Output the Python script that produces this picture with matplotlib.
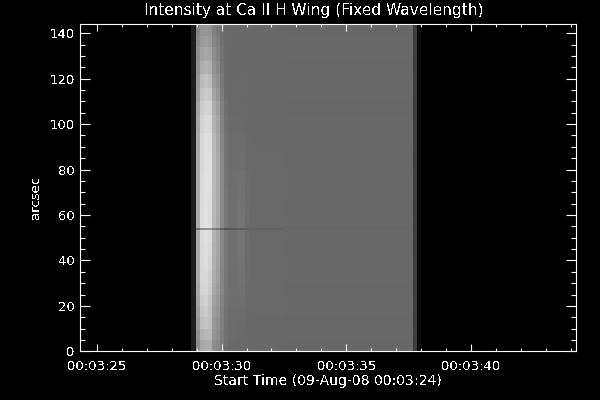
#!/usr/bin/env python3
import numpy as np
import matplotlib
matplotlib.use("Agg")
import matplotlib.pyplot as plt

# seconds after the start time 00:03:24
x_ticks = [1, 6, 11, 16]
x_labels = ["00:03:25", "00:03:30", "00:03:35", "00:03:40"]
x_minor = [2, 3, 4, 5, 7, 8, 9, 10, 12, 13, 14, 15, 17, 18, 19, 20]
y_ticks = [0, 20, 40, 60, 80, 100, 120, 140]

# slit position bands (arcsec)
band_edges = [0, 5, 10, 15, 20, 25, 30, 36, 42, 48, 53.6, 54.4, 60, 66, 72, 80, 88, 96,
              104, 110, 116, 122, 128, 134, 139, 144.3]

# scan columns: grey level of first 14 columns in each band, bottom to top
head = [
    [30, 142, 168, 172, 172, 142, 136, 122, 110, 106, 106, 105, 105, 105],
    [30, 146, 178, 182, 182, 148, 140, 124, 111, 107, 107, 106, 106, 105],
    [30, 152, 190, 196, 190, 152, 144, 126, 112, 108, 108, 107, 107, 105],
    [30, 158, 198, 204, 192, 156, 148, 128, 113, 108, 108, 108, 108, 105],
    [30, 165, 206, 210, 196, 162, 152, 130, 115, 109, 109, 110, 110, 106],
    [30, 168, 212, 214, 202, 168, 157, 133, 116, 110, 110, 112, 112, 106],
    [30, 170, 214, 216, 206, 172, 160, 134, 117, 110, 110, 113, 113, 107],
    [30, 170, 216, 220, 212, 176, 162, 135, 118, 110, 111, 114, 114, 107],
    [30, 171, 218, 223, 216, 178, 164, 135, 118, 110, 111, 115, 115, 107],
    [30, 171, 219, 225, 219, 180, 165, 135, 118, 110, 111, 115, 115, 108],
    [30, 110, 140, 145, 150, 125, 115, 92, 84, 88, 90, 92, 92, 92],
    [30, 171, 220, 226, 221, 184, 168, 137, 118, 110, 111, 115, 115, 108],
    [30, 171, 220, 226, 221, 185, 170, 138, 118, 110, 111, 115, 114, 108],
    [30, 170, 219, 225, 222, 185, 170, 138, 117, 110, 110, 113, 113, 107],
    [30, 170, 218, 225, 223, 185, 170, 138, 116, 109, 110, 112, 112, 107],
    [30, 170, 216, 224, 224, 185, 170, 137, 115, 108, 109, 110, 110, 106],
    [30, 169, 214, 222, 222, 183, 168, 135, 114, 107, 108, 108, 108, 106],
    [30, 167, 210, 218, 218, 178, 164, 132, 112, 106, 106, 106, 106, 105],
    [30, 164, 204, 212, 210, 172, 158, 128, 110, 105, 105, 105, 105, 105],
    [30, 158, 196, 204, 200, 164, 150, 124, 108, 105, 105, 105, 105, 104],
    [30, 152, 186, 194, 188, 154, 143, 120, 107, 105, 105, 105, 105, 104],
    [30, 147, 174, 180, 174, 146, 137, 117, 106, 104, 104, 104, 104, 104],
    [30, 143, 164, 168, 164, 140, 132, 114, 106, 104, 104, 104, 104, 104],
    [30, 138, 154, 158, 154, 133, 127, 112, 105, 104, 104, 104, 104, 104],
    [30, 134, 148, 150, 148, 128, 122, 110, 105, 104, 104, 104, 104, 104],
]
# next 8 scan columns and the remaining ones, same bands
near_level = [104, 104, 104, 105, 105, 105, 105, 105, 105, 105, 97, 105, 105, 105, 105,
              105, 104, 104, 104, 104, 104, 104, 104, 104, 104]
far_level = [103, 104, 103, 104, 104, 103, 104, 104, 103, 104, 102, 104, 103, 104, 104,
             103, 104, 104, 103, 104, 104, 103, 104, 104, 103]
edge_columns = [60, 10]
n_near = 8
n_far = 32

start_time = 4.794
col_step = 0.1645

plt.rcParams["font.family"] = "DejaVu Sans"
plt.rcParams["text.antialiased"] = False

fig = plt.figure(figsize=(6, 4), dpi=100, facecolor="black")
ax = fig.add_axes([80.3 / 600, (400 - 351.3) / 400, (576 - 80.3) / 600, (351.3 - 23.5) / 400])
ax.set_facecolor("black")

rows = []
for h, n, f in zip(head, near_level, far_level):
    rows.append(list(h) + [n] * n_near + [f] * n_far + edge_columns)
img = np.array(rows, dtype=float)

col_edges = start_time + col_step * np.arange(img.shape[1] + 1)
ax.pcolormesh(col_edges, band_edges, img, cmap="gray", vmin=0, vmax=255,
              shading="flat", antialiased=False, linewidth=0)

ax.set_xlim(0.34, 20.2)
ax.set_ylim(0, 144.3)
ax.set_xticks(x_ticks)
ax.set_xticklabels(x_labels)
ax.set_xticks(x_minor, minor=True)
ax.set_yticks(y_ticks)
ax.set_yticks(np.arange(0, 145, 5), minor=True)

ax.tick_params(axis="x", which="major", direction="in", top=True, length=5, width=0.8,
               colors="white", labelsize=9.5, pad=6)
ax.tick_params(axis="x", which="minor", direction="in", top=True, length=2.2, width=0.8, colors="white")
ax.tick_params(axis="y", which="major", direction="in", right=True, length=7.2, width=0.8,
               colors="white", labelsize=9.5, pad=4)
ax.tick_params(axis="y", which="minor", direction="in", right=True, length=3.6, width=0.8, colors="white")
for s in ax.spines.values():
    s.set_color("white")
    s.set_linewidth(0.8)

fig.text(313.5 / 600, 1 - 10 / 400, "Intensity at Ca II H Wing (Fixed Wavelength)",
         color="white", fontsize=11.1, ha="center", va="center")
fig.text(328 / 600, 1 - 381 / 400, "Start Time (09-Aug-08 00:03:24)",
         color="white", fontsize=10.1, ha="center", va="center")
fig.text(36 / 600, 1 - 197 / 400, "arcsec", color="white", fontsize=9.5,
         rotation=90, ha="center", va="center")

fig.savefig("out.png", dpi=100, facecolor="black")
